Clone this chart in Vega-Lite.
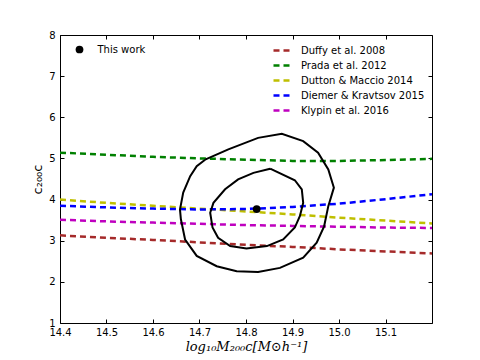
{
  "$schema": "https://vega.github.io/schema/vega-lite/v6.json",
  "width": 372,
  "height": 288,
  "autosize": "none",
  "padding": {"left": 60, "top": 35, "right": 48, "bottom": 37},
  "background": "white",
  "config": {
    "font": "DejaVu Sans",
    "view": {"stroke": "black", "strokeWidth": 1},
    "axis": {"grid": false, "domain": false, "tickColor": "black", "tickSize": -4, "labelColor": "black", "labelFontSize": 10, "labelFont": "DejaVu Sans", "titleColor": "black", "titleFontWeight": "normal"}
  },
  "datasets": {
    "models": [
      {"model": "Duffy et al. 2008", "x": 14.4, "c": 3.13}, {"model": "Duffy et al. 2008", "x": 14.5, "c": 3.07}, {"model": "Duffy et al. 2008", "x": 14.6, "c": 3.02}, {"model": "Duffy et al. 2008", "x": 14.7, "c": 2.96}, {"model": "Duffy et al. 2008", "x": 14.8, "c": 2.9}, {"model": "Duffy et al. 2008", "x": 14.9, "c": 2.85}, {"model": "Duffy et al. 2008", "x": 15.0, "c": 2.79}, {"model": "Duffy et al. 2008", "x": 15.1, "c": 2.74}, {"model": "Duffy et al. 2008", "x": 15.2, "c": 2.69},
      {"model": "Prada et al. 2012", "x": 14.4, "c": 5.14}, {"model": "Prada et al. 2012", "x": 14.5, "c": 5.09}, {"model": "Prada et al. 2012", "x": 14.6, "c": 5.04}, {"model": "Prada et al. 2012", "x": 14.7, "c": 5.0}, {"model": "Prada et al. 2012", "x": 14.8, "c": 4.97}, {"model": "Prada et al. 2012", "x": 14.9, "c": 4.94}, {"model": "Prada et al. 2012", "x": 15.0, "c": 4.94}, {"model": "Prada et al. 2012", "x": 15.1, "c": 4.96}, {"model": "Prada et al. 2012", "x": 15.2, "c": 4.99},
      {"model": "Dutton & Maccio 2014", "x": 14.4, "c": 4.0}, {"model": "Dutton & Maccio 2014", "x": 14.5, "c": 3.92}, {"model": "Dutton & Maccio 2014", "x": 14.6, "c": 3.85}, {"model": "Dutton & Maccio 2014", "x": 14.7, "c": 3.78}, {"model": "Dutton & Maccio 2014", "x": 14.8, "c": 3.71}, {"model": "Dutton & Maccio 2014", "x": 14.9, "c": 3.64}, {"model": "Dutton & Maccio 2014", "x": 15.0, "c": 3.56}, {"model": "Dutton & Maccio 2014", "x": 15.1, "c": 3.49}, {"model": "Dutton & Maccio 2014", "x": 15.2, "c": 3.42},
      {"model": "Diemer & Kravtsov 2015", "x": 14.4, "c": 3.85}, {"model": "Diemer & Kravtsov 2015", "x": 14.5, "c": 3.81}, {"model": "Diemer & Kravtsov 2015", "x": 14.6, "c": 3.78}, {"model": "Diemer & Kravtsov 2015", "x": 14.7, "c": 3.76}, {"model": "Diemer & Kravtsov 2015", "x": 14.8, "c": 3.77}, {"model": "Diemer & Kravtsov 2015", "x": 14.9, "c": 3.82}, {"model": "Diemer & Kravtsov 2015", "x": 15.0, "c": 3.9}, {"model": "Diemer & Kravtsov 2015", "x": 15.1, "c": 4.01}, {"model": "Diemer & Kravtsov 2015", "x": 15.2, "c": 4.13},
      {"model": "Klypin et al. 2016", "x": 14.4, "c": 3.51}, {"model": "Klypin et al. 2016", "x": 14.5, "c": 3.47}, {"model": "Klypin et al. 2016", "x": 14.6, "c": 3.44}, {"model": "Klypin et al. 2016", "x": 14.7, "c": 3.41}, {"model": "Klypin et al. 2016", "x": 14.8, "c": 3.38}, {"model": "Klypin et al. 2016", "x": 14.9, "c": 3.36}, {"model": "Klypin et al. 2016", "x": 15.0, "c": 3.34}, {"model": "Klypin et al. 2016", "x": 15.1, "c": 3.32}, {"model": "Klypin et al. 2016", "x": 15.2, "c": 3.31}
    ],
    "contours": [
      {"ring": "outer", "i": 1, "x": 14.712, "c": 4.97}, {"ring": "outer", "i": 2, "x": 14.762, "c": 5.22}, {"ring": "outer", "i": 3, "x": 14.826, "c": 5.5}, {"ring": "outer", "i": 4, "x": 14.877, "c": 5.6}, {"ring": "outer", "i": 5, "x": 14.923, "c": 5.42}, {"ring": "outer", "i": 6, "x": 14.955, "c": 5.14}, {"ring": "outer", "i": 7, "x": 14.977, "c": 4.73}, {"ring": "outer", "i": 8, "x": 14.989, "c": 4.29}, {"ring": "outer", "i": 9, "x": 14.977, "c": 3.84}, {"ring": "outer", "i": 10, "x": 14.968, "c": 3.35}, {"ring": "outer", "i": 11, "x": 14.952, "c": 2.95}, {"ring": "outer", "i": 12, "x": 14.923, "c": 2.59}, {"ring": "outer", "i": 13, "x": 14.873, "c": 2.34}, {"ring": "outer", "i": 14, "x": 14.826, "c": 2.24}, {"ring": "outer", "i": 15, "x": 14.78, "c": 2.26}, {"ring": "outer", "i": 16, "x": 14.737, "c": 2.38}, {"ring": "outer", "i": 17, "x": 14.694, "c": 2.63}, {"ring": "outer", "i": 18, "x": 14.669, "c": 3.03}, {"ring": "outer", "i": 19, "x": 14.66, "c": 3.52}, {"ring": "outer", "i": 20, "x": 14.658, "c": 3.76}, {"ring": "outer", "i": 21, "x": 14.665, "c": 4.17}, {"ring": "outer", "i": 22, "x": 14.68, "c": 4.57}, {"ring": "outer", "i": 23, "x": 14.694, "c": 4.81}, {"ring": "outer", "i": 24, "x": 14.712, "c": 4.97},
      {"ring": "inner", "i": 1, "x": 14.852, "c": 4.75}, {"ring": "inner", "i": 2, "x": 14.905, "c": 4.47}, {"ring": "inner", "i": 3, "x": 14.92, "c": 4.25}, {"ring": "inner", "i": 4, "x": 14.923, "c": 3.92}, {"ring": "inner", "i": 5, "x": 14.916, "c": 3.6}, {"ring": "inner", "i": 6, "x": 14.905, "c": 3.32}, {"ring": "inner", "i": 7, "x": 14.88, "c": 3.03}, {"ring": "inner", "i": 8, "x": 14.845, "c": 2.87}, {"ring": "inner", "i": 9, "x": 14.801, "c": 2.81}, {"ring": "inner", "i": 10, "x": 14.766, "c": 2.87}, {"ring": "inner", "i": 11, "x": 14.74, "c": 3.07}, {"ring": "inner", "i": 12, "x": 14.728, "c": 3.32}, {"ring": "inner", "i": 13, "x": 14.723, "c": 3.68}, {"ring": "inner", "i": 14, "x": 14.73, "c": 3.92}, {"ring": "inner", "i": 15, "x": 14.755, "c": 4.25}, {"ring": "inner", "i": 16, "x": 14.783, "c": 4.49}, {"ring": "inner", "i": 17, "x": 14.816, "c": 4.65}, {"ring": "inner", "i": 18, "x": 14.852, "c": 4.75}
    ],
    "point": [{"label": "This work", "x": 14.823, "c": 3.77}]
  },
  "layer": [
    {
      "data": {"name": "models"},
      "mark": {"type": "line", "strokeDash": [6, 4], "strokeWidth": 2.5, "clip": true},
      "encoding": {
        "x": {"field": "x", "type": "quantitative", "scale": {"domain": [14.4, 15.2], "nice": false, "zero": false},
          "axis": {"orient": "bottom", "values": [14.4, 14.5, 14.6, 14.7, 14.8, 14.9, 15.0, 15.1], "format": ".1f", "labelPadding": 8, "labelFlush": false,
            "title": "log₁₀M₂₀₀c[M⊙h⁻¹]", "titleFont": "DejaVu Serif", "titleFontStyle": "italic", "titleFontSize": 13, "titlePadding": 3}},
        "y": {"field": "c", "type": "quantitative", "scale": {"domain": [1, 8], "nice": false, "zero": false},
          "axis": {"orient": "left", "values": [1, 2, 3, 4, 5, 6, 7, 8], "labelPadding": 9, "labelFlush": false, "title": "c₂₀₀c", "titleFontSize": 13, "titlePadding": 4}},
        "color": {"field": "model", "type": "nominal",
          "scale": {"domain": ["Duffy et al. 2008", "Prada et al. 2012", "Dutton & Maccio 2014", "Diemer & Kravtsov 2015", "Klypin et al. 2016"],
            "range": ["#a52a2a", "#008000", "#bfbf00", "#0000ff", "#bf00bf"]},
          "legend": {"orient": "none", "legendX": 212, "legendY": 6, "title": null, "padding": 0, "symbolType": "stroke", "symbolStrokeWidth": 2.5, "symbolDash": [6, 4], "symbolSize": 256, "labelFontSize": 10, "labelOffset": 10, "rowPadding": -1.5, "labelColor": "black"}}
      }
    },
    {
      "data": {"name": "contours"},
      "mark": {"type": "line", "color": "black", "strokeWidth": 2},
      "encoding": {
        "x": {"field": "x", "type": "quantitative", "axis": {"orient": "top", "values": [14.4, 14.5, 14.6, 14.7, 14.8, 14.9, 15.0, 15.1], "labels": false, "title": null}},
        "y": {"field": "c", "type": "quantitative", "axis": {"orient": "right", "values": [1, 2, 3, 4, 5, 6, 7, 8], "labels": false, "title": null}},
        "detail": {"field": "ring", "type": "nominal"},
        "order": {"field": "i", "type": "quantitative"}
      }
    },
    {
      "data": {"name": "point"},
      "mark": {"type": "point", "filled": true, "color": "black", "opacity": 1, "size": 60},
      "encoding": {
        "x": {"field": "x", "type": "quantitative", "axis": null},
        "y": {"field": "c", "type": "quantitative", "axis": null},
        "shape": {"field": "label", "type": "nominal", "scale": {"range": ["circle"]},
          "legend": {"orient": "none", "legendX": 14.5, "legendY": 9.5, "title": null, "padding": 0, "symbolSize": 60, "symbolFillColor": "black", "symbolStrokeColor": "black", "labelFontSize": 10, "labelOffset": 13, "labelColor": "black"}}
      }
    }
  ],
  "resolve": {"axis": {"x": "independent", "y": "independent"}}
}
